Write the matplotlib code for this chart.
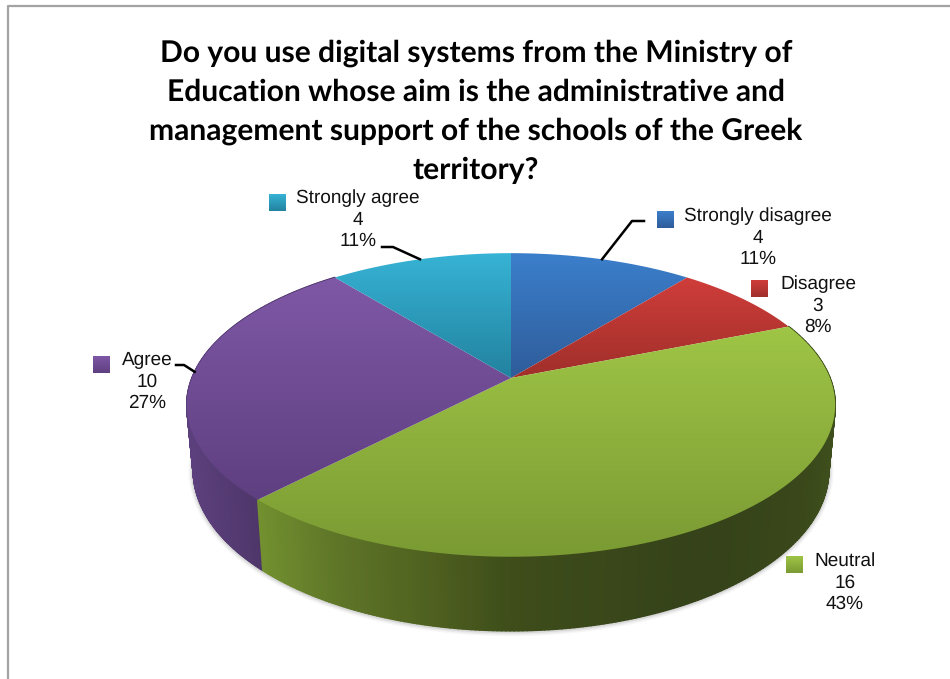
import numpy as np
import matplotlib
matplotlib.use("Agg")
import matplotlib.pyplot as plt
from matplotlib.patches import Polygon
from matplotlib.collections import PolyCollection
from matplotlib.colors import to_rgb, LinearSegmentedColormap

plt.rcParams["text.hinting"] = "no_hinting"
plt.rcParams["text.hinting_factor"] = 1

# Survey answers, clockwise from twelve o'clock
categories = ["Strongly disagree", "Disagree", "Neutral", "Agree", "Strongly agree"]
counts = [4, 3, 16, 10, 4]
percents = [11, 8, 43, 27, 11]

title_lines = [
    "Do you use digital systems from the Ministry of",
    "Education whose aim is the administrative and",
    "management support of the schools of the Greek",
    "territory?",
]

# Slice styling: top-face gradient (light to dark)
face_top = ["#3b7fcb", "#cf3d3a", "#9fc546", "#7f58a6", "#37b3d5"]
face_bottom = ["#2f5c9a", "#a02f2a", "#7a9a33", "#5e3f80", "#22829f"]

# Side wall shading stops along the horizontal position
wall_x = [187, 258, 333, 433, 511, 700, 800, 835]
wall_green = ["#6f8a32", "#72902f", "#5f7628", "#4e5f1f", "#3e4d1a", "#35421a", "#39471a", "#3f4f1c"]
wall_purple = ["#5c407d", "#4e3669", "#4e3669", "#4e3669", "#4e3669", "#4e3669", "#4e3669", "#4e3669"]

# Label placement: key square (left, top), text centre x, first-line y, leader elbow points
key_pos = [(657, 211), (751, 280), (786, 556), (93, 356), (269, 194)]
label_cx = [758, 818, 845, 147, 358]
label_y0 = [216, 284, 561, 360, 198]
leaders = {0: [(644, 221), (632, 221)], 3: [(176, 365), (184, 365)], 4: [(382, 247), (393, 247)]}

# Pie projection parameters
CX, CY = 511, 378
RX, RY = 319, 147
PERSP = 0.1776
HEIGHT = 63.8
BASE_SCALE = 0.98


def top_rim(theta):
    u, v = np.sin(theta), np.cos(theta)
    s = 1 / (1 + PERSP * v)
    return CX + RX * u * s, CY - RY * v * s


def bottom_rim(theta):
    u, v = np.sin(theta), np.cos(theta)
    s = 1 / (1 + PERSP * v)
    return CX + BASE_SCALE * RX * u * s, CY - BASE_SCALE * RY * v * s + HEIGHT * s


def gradient_patch(ax, poly_xy, c_top, c_bottom, zorder):
    cmap = LinearSegmentedColormap.from_list("g", [c_top, c_bottom])
    x0, y0 = poly_xy.min(axis=0)
    x1, y1 = poly_xy.max(axis=0)
    grad = np.linspace(0, 1, 256).reshape(-1, 1)
    im = ax.imshow(grad, cmap=cmap, extent=(x0, x1, y1, y0), aspect="auto",
                   interpolation="bilinear", zorder=zorder)
    im.set_clip_path(Polygon(poly_xy, closed=True, transform=ax.transData))


fig = plt.figure(figsize=(9.5, 6.79), dpi=100, facecolor="white")
ax = fig.add_axes([0, 0, 1, 1])
ax.set_axis_off()
ax.set_autoscale_on(False)
ax.set_xlim(0, 950)
ax.set_ylim(679, 0)

# Chart frame: left and top edges only
ax.plot([8, 8, 950], [679, 5.5, 5.5], color="#a3a3a3", lw=1.6, zorder=1)

fractions = np.array(counts) / sum(counts)
edges = np.concatenate([[0], np.cumsum(fractions)]) * 2 * np.pi

# Soft shadow beneath the lower rim
shadow_t = np.linspace(np.radians(92), np.radians(268), 200)
sx, sy = bottom_rim(shadow_t)
for lw, a in [(7, 0.05), (5, 0.07), (3, 0.12)]:
    ax.plot(sx, sy + 0.5, color="#555555", lw=lw, alpha=a, zorder=2, solid_capstyle="round")

# Side wall as narrow shaded strips
wall_rgb = {2: np.array([to_rgb(c) for c in wall_green]),
            3: np.array([to_rgb(c) for c in wall_purple])}
for i in (3, 2):
    t = np.linspace(edges[i], edges[i + 1], 240)
    quads, cols = [], []
    xa, ya = top_rim(t)
    xb, yb = bottom_rim(t)
    for j in range(len(t) - 1):
        quads.append([(xa[j], ya[j]), (xa[j + 1], ya[j + 1]), (xb[j + 1], yb[j + 1]), (xb[j], yb[j])])
        xm = (xa[j] + xa[j + 1]) / 2
        cols.append([np.interp(xm, wall_x, wall_rgb[i][:, c]) for c in range(3)])
    ax.add_collection(PolyCollection(quads, facecolors=cols, edgecolors=cols, linewidths=1.2, zorder=3))

# Top faces
for i in range(len(counts)):
    t = np.linspace(edges[i], edges[i + 1], 200)
    x, y = top_rim(t)
    poly = np.column_stack([np.r_[CX, x], np.r_[CY, y]])
    gradient_patch(ax, poly, face_top[i], face_bottom[i], 4)

# Data labels with their key squares
lab_font = {"family": "Liberation Sans", "fontsize": 13.7, "color": "#111111"}
for i, name in enumerate(categories):
    kx, ky = key_pos[i]
    key = np.array([(kx, ky), (kx + 17, ky), (kx + 17, ky + 17), (kx, ky + 17)], float)
    gradient_patch(ax, key, face_top[i], face_bottom[i], 5)
    lines = [name, str(counts[i]), f"{percents[i]}%"]
    for k, s in enumerate(lines):
        ax.text(label_cx[i], label_y0[i] + k * 21.6, s, ha="center", va="center", zorder=6, **lab_font)

# Leader lines end at the rim, at each slice's mid-angle
for i, pts in leaders.items():
    mx, my = top_rim((edges[i] + edges[i + 1]) / 2)
    xs = [p[0] for p in pts] + [mx]
    ys = [p[1] for p in pts] + [my]
    ax.plot(xs, ys, color="black", lw=1.8, zorder=6, solid_joinstyle="round")

# Title
for k, line in enumerate(title_lines):
    ax.text(476, 53 + k * 39.2, line, ha="center", va="center", fontsize=21.3,
            family="Lato", fontweight="bold", color="black", zorder=6)

fig.savefig("out.png", dpi=100, facecolor="white")
